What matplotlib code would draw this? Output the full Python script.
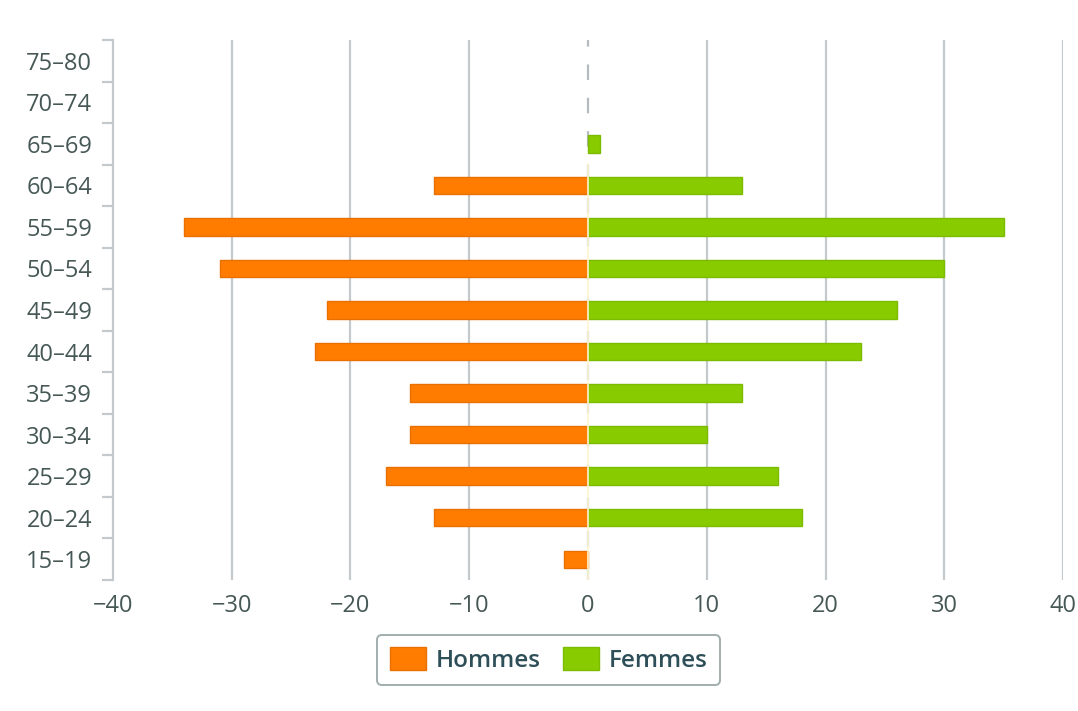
# Pyramide des ages - Hommes / Femmes
import matplotlib.pyplot as plt
import numpy as np

# === Data ===
age_groups = ["15-19", "20-24", "25-29", "30-34", "35-39", "40-44", "45-49",
              "50-54", "55-59", "60-64", "65-69", "70-74", "75-80"]
hommes = [2, 13, 17, 15, 15, 23, 22, 31, 34, 13, 0, 0, 0]
femmes = [0, 18, 16, 10, 13, 23, 26, 30, 35, 13, 1, 0, 0]
x_ticks = [-40, -30, -20, -10, 0, 10, 20, 30, 40]

# === Style ===
plt.rcParams.update({
    'font.family': ['Open Sans', 'DejaVu Sans'],
    'font.size': 17,
})
text_col = '#465856'
grid_col = '#c3c9cc'
orange = '#ff7c00'
green = '#88cc00'

fig = plt.figure(figsize=(10.78, 7.11), dpi=100)
ax = fig.add_axes([0.1048, 0.1842, 0.8813, 0.7595])

y = np.arange(len(age_groups))
bar_h = 0.42

# gridlines
for xv in x_ticks[1:]:
    if xv == 0:
        ax.axvline(0, color='#b5bcc0', lw=1.6, ls=(0, (7, 8)), zorder=1)
    else:
        ax.axvline(xv, color=grid_col, lw=1.6, zorder=1)

# skip empty groups so no edge line is drawn for zero values
h_idx = [i for i, v in enumerate(hommes) if v > 0]
f_idx = [i for i, v in enumerate(femmes) if v > 0]
ax.barh([y[i] for i in h_idx], [-hommes[i] for i in h_idx], height=bar_h,
        color=orange, edgecolor='#e86f00', linewidth=1, label='Hommes', zorder=3)
ax.barh([y[i] for i in f_idx], [femmes[i] for i in f_idx], height=bar_h,
        color=green, edgecolor='#7cbb00', linewidth=1, label='Femmes', zorder=3)
# thin pale separation at zero
ax.axvline(0, ymin=0.0, ymax=0.77, color='#fdf6d0', lw=1.2, zorder=4)

ax.set_xlim(-40, 40)
ax.set_ylim(-0.5, len(age_groups) - 0.5)
ax.set_xticks(x_ticks)
ax.set_xticklabels([str(v).replace('-', '\u2212') for v in x_ticks],
                   color=text_col, fontweight='medium')
ax.set_yticks(y)
ax.set_yticklabels([g.replace('-', '\u2013') for g in age_groups],
                   color=text_col, fontweight='medium')
ax.set_yticks(np.arange(-0.5, len(age_groups), 1), minor=True)

ax.tick_params(axis='x', length=0, pad=10)
ax.tick_params(axis='y', which='major', length=0, pad=15)
ax.tick_params(axis='y', which='minor', length=8, width=1.6, color=grid_col)

for s in ['top', 'right', 'bottom']:
    ax.spines[s].set_visible(False)
ax.spines['left'].set_color(grid_col)
ax.spines['left'].set_linewidth(1.6)

# === Legend ===
leg = fig.legend(loc='center', bbox_to_anchor=(0.509, 0.072), ncol=2,
                 frameon=True, fancybox=True, fontsize=17.5,
                 handlelength=1.5, handleheight=1.1, columnspacing=0.9,
                 handletextpad=0.4, borderpad=0.5)
leg.get_frame().set_edgecolor('#8a9a9a')
leg.get_frame().set_linewidth(1.4)
for t in leg.get_texts():
    t.set_color('#2f4f58')
    t.set_fontweight('semibold')

fig.savefig('out.png', dpi=100)
